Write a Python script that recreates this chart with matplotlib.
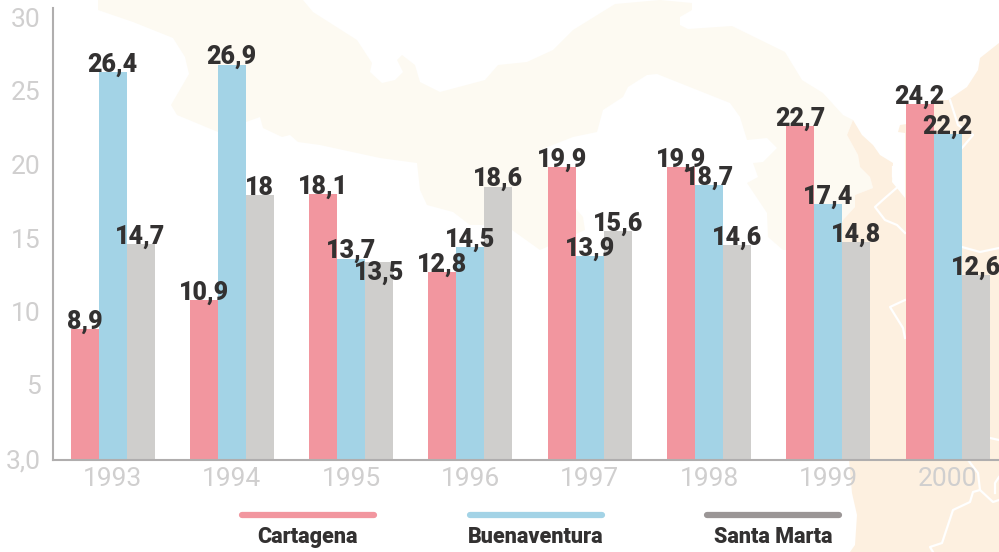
"""
Bar chart of three Colombian cities, 1993-2000, over a faint map background.
"""
import numpy as np
import matplotlib
matplotlib.use("Agg")
import matplotlib.pyplot as plt
from matplotlib.patches import Polygon
from matplotlib.transforms import ScaledTranslation

years = ['1993', '1994', '1995', '1996', '1997', '1998', '1999', '2000']
cartagena = [8.9, 10.9, 18.1, 12.8, 19.9, 19.9, 22.7, 24.2]
buenaventura = [26.4, 26.9, 13.7, 14.5, 13.9, 18.7, 17.4, 22.2]
santa_marta = [14.7, 18, 13.5, 18.6, 15.6, 14.6, 14.8, 12.6]
y_ticks = [0, 5, 10, 15, 20, 25, 30]
y_tick_labels = ['3,0', '5', '10', '15', '20', '25', '30']
series_names = ['Cartagena', 'Buenaventura', 'Santa Marta']

# background map outlines, in image pixels
panama = [(98, 0), (303, 0), (313, 12), (357, 40), (372, 63), (370, 72), (382, 83), (395, 80),
          (403, 72), (397, 60), (402, 55), (415, 65), (420, 82), (440, 92), (485, 80), (498, 65),
          (527, 62), (553, 50), (573, 30), (615, 4), (660, 0), (692, 3), (692, 10), (680, 17),
          (680, 25), (688, 29), (732, 26), (785, 52), (802, 80), (823, 93), (843, 115), (853, 120),
          (847, 135), (858, 155), (860, 167), (870, 177), (873, 188), (855, 195), (855, 207),
          (843, 220), (815, 250), (783, 250), (768, 237), (767, 213), (747, 183), (758, 177),
          (753, 163), (763, 162), (777, 148), (767, 138), (747, 140), (740, 117), (730, 103),
          (657, 74), (647, 75), (628, 87), (623, 97), (603, 110), (597, 132), (573, 137),
          (540, 150), (560, 190), (583, 217), (585, 230), (540, 250), (505, 225), (470, 225),
          (453, 212), (427, 205), (420, 190), (417, 163), (380, 158), (320, 145), (298, 142),
          (290, 135), (282, 137), (263, 128), (260, 117), (218, 132), (177, 115), (171, 105),
          (189, 74), (185, 57), (173, 38), (133, 22), (98, 10)]
colombia = [(853, 120), (862, 135), (873, 145), (880, 155), (893, 163), (892, 182), (905, 198),
            (905, 133), (898, 132), (900, 125), (920, 122), (935, 100), (948, 100), (967, 87),
            (978, 70), (980, 58), (999, 43), (999, 552), (850, 552), (855, 545), (857, 515),
            (852, 493), (849, 460), (835, 240), (843, 220), (855, 207), (855, 195), (873, 188),
            (870, 177), (860, 167), (858, 155), (847, 135)]
borders = [[(950, 100), (958, 125), (973, 135), (962, 148)],
           [(893, 167), (893, 177), (900, 175), (900, 185), (885, 198), (875, 207), (885, 220),
            (897, 225), (905, 233)],
           [(962, 247), (980, 252), (999, 248)],
           [(905, 300), (890, 307), (903, 328), (905, 338)],
           [(990, 438), (999, 440)],
           [(968, 460), (978, 473), (980, 490), (973, 492), (970, 502), (953, 510), (942, 543),
            (930, 547), (933, 552)],
           [(980, 490), (993, 502), (999, 500)],
           [(999, 477), (995, 483), (995, 493)]]

W, H = 999, 552
fig = plt.figure(figsize=(W / 100, H / 100), dpi=100)
plt.rcParams['font.family'] = ['Roboto', 'DejaVu Sans']

bg = fig.add_axes([0, 0, 1, 1])
bg.set_xlim(0, W)
bg.set_ylim(H, 0)
bg.axis('off')
bg.add_patch(Polygon(panama, closed=True, fc='#fdfaf2', ec='none'))
bg.add_patch(Polygon(colombia, closed=True, fc='#fdf0e0', ec='none'))
for b in borders:
    bg.plot(*zip(*b), color='white', lw=1.6)

# y: 14.7 px per unit, zero at y=460; x: 119.3 px per group
ax = fig.add_axes([53 / W, 1 - 460 / H, (W - 53) / W, (460 - 8) / H])
ax.patch.set_alpha(0)
ax.set_ylim(0, 452 / 14.7)
ax.set_xlim(-(112.5 - 53) / 119.3, (W - 112.5) / 119.3)

x = np.arange(len(years))
w = 28 / 119.3
colors = ['#f2969f', '#a3d3e6', '#cfcecc']
for i, vals in enumerate([cartagena, buenaventura, santa_marta]):
    ax.bar(x + (i - 1) * w, vals, w, color=colors[i])
    for xi, v in zip(x, vals):
        # the 13,5 label sits inside its bar in the original
        off = -1.6 if v == 13.5 else -0.33
        ax.text(xi + (i - 1) * w, v + off, str(v).replace('.', ','), ha='center', va='bottom',
                fontsize=18, fontweight='black', color='#333131', zorder=5)

for s in ['top', 'right']:
    ax.spines[s].set_visible(False)
for s in ['left', 'bottom']:
    ax.spines[s].set_color('#b0aeae')
    ax.spines[s].set_linewidth(1.5)

ax.set_xticks(x, years)
ax.set_yticks(y_ticks, y_tick_labels)
ax.tick_params(length=0, labelsize=19, labelcolor='#d0cfcf', pad=5)
ax.tick_params(axis='y', pad=9)
# nudge the y labels down a pixel
nudge = ScaledTranslation(0, -1 / 100, fig.dpi_scale_trans)
for t in ax.get_yticklabels():
    t.set_verticalalignment('center')
    t.set_transform(t.get_transform() + nudge)

# legend drawn by hand: rounded bar with the name underneath
leg_x = [308, 536, 773]
leg_colors = ['#f2969f', '#a3d3e6', '#9b9696']
for lx, name, c in zip(leg_x, series_names, leg_colors):
    bg.plot([lx - 66, lx + 66], [515, 515], color=c, lw=4.5, solid_capstyle='round')
    bg.text(lx, 537, name, ha='center', va='center', fontsize=15.5, fontweight='black', color='#333131')

fig.savefig('out.png', dpi=100)
